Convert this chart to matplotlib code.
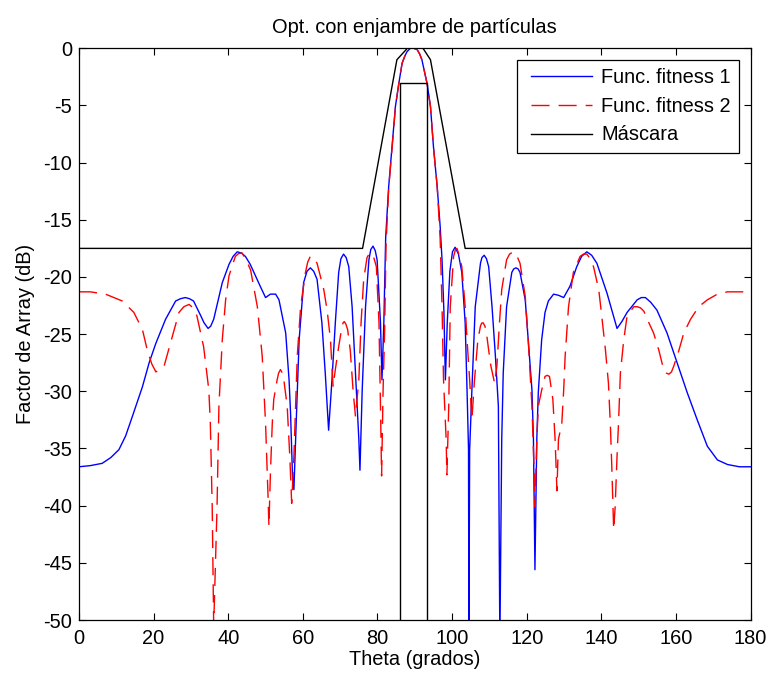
import matplotlib
matplotlib.use("Agg")
import matplotlib.pyplot as plt
from matplotlib.legend_handler import HandlerLine2D

# ---- data ----
theta_f1 = [0, 3, 6.2, 8.5, 10.7, 12.5, 14.3, 17.0, 18.8, 20.6, 23.2, 25.9, 27.2, 28.5, 29.6, 30.7,
            32.5, 33.5, 34.6, 35.3, 36.1, 38.4, 40.2, 41.3, 42.4, 43.5, 44.6, 45.9, 47.3, 48.7,
            50.0, 51.3, 52.7, 53.6, 55.4, 56.3, 56.7, 57.2, 57.6, 58.3, 59.0, 60.2, 61.1, 62.0,
            62.9, 63.8, 65.1, 66.0, 66.9, 67.8, 68.7, 69.6, 70.2, 70.9, 71.6, 72.3, 73.2, 74.1,
            75.0, 75.3, 75.9, 76.8, 77.7, 78.2, 78.8, 79.4, 79.9, 80.8, 81.2, 81.7, 82.2, 83.0,
            83.9, 84.8, 85.7, 86.6, 87.3, 87.9, 88.8, 89.7, 90.6, 91.3, 91.9, 93.3, 94.2, 95.0,
            96.0, 96.8, 97.3, 97.8, 98.2, 98.7, 99.4, 100.1, 100.8, 101.7, 102.6, 103.5, 104.0,
            104.4, 104.5, 104.7, 105.3, 106.2, 107.6, 108.0, 108.6, 109.2, 109.8, 110.7, 111.6,
            112.4, 112.8, 113.3, 113.7, 114.6, 116.0, 116.5, 117.1, 117.7, 118.2, 119.6, 120.4,
            121.4, 121.8, 122.2, 122.7, 123.1, 124.0, 124.9, 125.8, 127.2, 128.5, 129.9, 131.6,
            133.4, 134.7, 136.1, 137.4, 138.8, 141.5, 144.2, 145.5, 146.9, 149.6, 150.7, 151.8,
            153.2, 154.9, 157.6, 160.3, 163.0, 165.7, 168.4, 171.1, 173.8, 177.0, 180.0]
db_f1 = [-36.6, -36.5, -36.3, -35.8, -35.1, -33.9, -32.2, -29.6, -27.5, -25.8, -23.7, -22.1, -21.9,
         -21.8, -21.9, -22.1, -23.3, -24.0, -24.5, -24.3, -23.7, -20.5, -18.9, -18.2, -17.8, -17.9,
         -18.2, -18.9, -19.9, -20.9, -21.8, -21.5, -21.5, -22.0, -24.9, -29.0, -31.9, -37.2, -38.6,
         -31.9, -25.5, -20.5, -19.5, -19.2, -19.5, -20.2, -24.0, -28.4, -33.4, -29.0, -24.0, -19.6,
         -18.4, -18.0, -18.3, -19.1, -22.6, -28.4, -34.2, -36.9, -29.9, -22.6, -18.5, -17.6, -17.3,
         -17.7, -18.5, -24.0, -29.0, -24.0, -16.5, -12.1, -8.6, -5.1, -3.1, -1.3, -0.7, -0.3, 0.0,
         0.0, -0.1, -0.5, -1.0, -3.1, -5.1, -8.6, -12.1, -15.6, -18.5, -23.0, -29.0, -24.0, -19.5,
         -17.8, -17.4, -18.0, -19.6, -24.0, -29.9, -35.1, -52.0, -35.1, -29.9, -22.6, -18.8, -18.3,
         -18.1, -18.4, -19.1, -22.6, -26.9, -31.3, -52.0, -34.2, -28.4, -22.6, -19.6, -19.3, -19.2,
         -19.3, -19.6, -22.0, -25.5, -29.9, -34.2, -45.6, -34.2, -30.1, -25.5, -23.1, -22.1, -21.5,
         -21.6, -21.8, -20.8, -19.1, -18.2, -17.8, -18.1, -18.8, -21.4, -24.5, -23.9, -23.1, -22.0,
         -21.8, -21.8, -22.2, -22.9, -24.9, -27.5, -30.1, -32.5, -34.8, -36.0, -36.4, -36.6, -36.6]

theta_f2 = [0, 3, 7.1, 11.6, 14.7, 17.0, 18.3, 19.5, 20.6, 21.7, 22.8, 25.0, 26.8, 28.1, 29.5,
            30.6, 31.6, 33.4, 34.8, 35.2, 35.7, 36.1, 37.0, 37.5, 38.4, 39.3, 40.2, 41.9, 42.8,
            43.7, 44.8, 46.0, 47.8, 49.1, 50.0, 50.7, 50.9, 51.3, 51.8, 52.2, 53.1, 53.5, 54.0,
            54.5, 54.9, 55.8, 56.5, 57.0, 57.6, 58.5, 59.4, 60.7, 61.3, 62.0, 62.9, 63.8, 65.6,
            66.5, 67.4, 68.1, 68.7, 69.6, 70.5, 70.8, 71.1, 71.5, 72.0, 72.7, 73.5, 74.1, 75.0,
            75.6, 76.3, 77.2, 77.8, 78.4, 79.1, 79.7, 80.4, 80.8, 81.1, 81.5, 81.9, 82.3, 83.0,
            83.9, 84.8, 85.7, 86.6, 87.3, 87.9, 88.8, 89.7, 90.6, 91.3, 91.9, 93.3, 94.2, 95.0,
            96.0, 96.8, 97.3, 97.7, 98.4, 98.6, 99.1, 99.5, 100.4, 100.9, 101.3, 101.9, 102.6,
            103.5, 104.0, 104.7, 105.3, 106.0, 106.9, 107.6, 107.9, 108.3, 108.8, 109.2, 109.8,
            110.4, 111.4, 112.0, 112.7, 113.3, 114.6, 115.4, 116.4, 117.3, 118.2, 119.6, 120.4,
            121.4, 122.0, 122.2, 122.7, 123.1, 124.0, 124.9, 125.5, 126.1, 127.0, 127.6, 128.1,
            128.5, 129.4, 129.9, 130.3, 131.2, 132.5, 134.3, 135.2, 136.1, 137.0, 137.9, 139.3,
            140.1, 141.1, 141.9, 142.4, 142.8, 143.3, 143.7, 144.2, 144.6, 145.1, 146.0, 146.9,
            148.7, 149.6, 150.5, 151.4, 152.3, 154.0, 155.4, 156.7, 157.4, 158.1, 158.8, 159.4,
            160.8, 162.1, 163.9, 166.1, 168.4, 171.1, 173.8, 180.0]
db_f2 = [-21.3, -21.3, -21.5, -22.1, -23.1, -24.6, -26.4, -27.6, -28.3, -28.1, -27.8, -25.2, -23.1,
         -22.6, -22.4, -22.7, -23.4, -26.1, -29.9, -32.8, -40.1, -50.5, -40.1, -31.3, -25.5, -22.0,
         -19.9, -18.2, -17.95, -17.9, -18.5, -19.4, -22.6, -26.9, -32.8, -39.5, -41.8, -37.2, -32.8,
         -30.7, -29.0, -28.4, -28.1, -28.4, -29.0, -31.3, -35.7, -39.8, -35.7, -26.9, -22.6, -19.6,
         -18.7, -18.2, -18.3, -18.8, -21.1, -22.9, -25.5, -29.6, -28.1, -26.1, -24.3, -24.0, -23.9,
         -24.1, -24.6, -26.4, -30.1, -32.2, -29.0, -24.0, -20.2, -18.3, -17.95, -17.9, -18.4, -19.1,
         -24.0, -31.3, -37.4, -29.9, -24.9, -17.0, -12.3, -8.7, -5.2, -3.1, -1.3, -0.7, -0.3, 0.0,
         0.0, -0.1, -0.5, -1.0, -3.1, -5.1, -8.6, -12.1, -16.7, -22.6, -29.0, -34.2, -37.3, -31.3,
         -22.6, -18.2, -17.6, -17.5, -18.1, -19.1, -22.6, -25.5, -29.0, -32.5, -29.0, -25.5, -24.3,
         -24.05, -24.0, -24.3, -24.9, -26.4, -27.8, -29.3, -27.8, -24.0, -21.1, -18.5, -18.0, -17.8,
         -18.1, -18.8, -21.7, -25.5, -31.3, -37.2, -40.1, -34.2, -31.3, -29.9, -28.7, -28.6, -28.7,
         -30.7, -34.2, -38.7, -34.2, -32.8, -29.9, -26.9, -22.6, -19.6, -18.2, -18.0, -18.0, -18.4,
         -19.1, -21.1, -23.4, -26.4, -29.3, -32.8, -36.6, -42.1, -40.1, -35.7, -32.8, -28.4, -25.5,
         -23.4, -22.6, -22.6, -22.7, -23.0, -23.7, -24.9, -26.4, -28.1, -28.4, -28.5, -28.3, -27.8,
         -26.4, -24.9, -23.7, -22.6, -22.0, -21.5, -21.3, -21.3]

mask_upper_theta = [0, 76.0, 85.2, 88.0, 92.2, 94.2, 103.5, 180]
mask_upper_db = [-17.5, -17.5, -1.0, 0.0, 0.0, -1.0, -17.5, -17.5]
mask_lower_theta = [85.9, 85.9, 93.3, 93.3]
mask_lower_db = [-50, -3, -3, -50]

x_ticks = list(range(0, 181, 20))
y_ticks = list(range(0, -51, -5))

plt.rcParams['font.family'] = ['Liberation Sans', 'DejaVu Sans']
plt.rcParams['axes.unicode_minus'] = False
FS = 14.4

fig = plt.figure(figsize=(7.7, 6.79), dpi=100)
ax = fig.add_axes([79 / 770, 1 - 620 / 679, (750.6 - 79) / 770, (620 - 48.3) / 679])

ax.plot(theta_f1, db_f1, color='#0000FF', lw=1.0, label='Func. fitness 1')
ax.plot(theta_f2, db_f2, color='#FF0000', lw=1.0, dashes=(13, 6.5), label='Func. fitness 2')
ax.plot(mask_upper_theta, mask_upper_db, color='black', lw=1.0, label='Máscara')
ax.plot(mask_lower_theta, mask_lower_db, color='black', lw=1.0)

ax.set_xlim(0, 180)
ax.set_ylim(-50, 0)
ax.set_xticks(x_ticks)
ax.set_yticks(y_ticks)
ax.tick_params(direction='in', length=5, width=0.8, top=True, right=True,
               labelsize=FS, colors='black')
ax.tick_params(axis='x', pad=6.5)
ax.tick_params(axis='y', pad=5)
for s in ax.spines.values():
    s.set_linewidth(0.9)
    s.set_color('black')

ax.set_title('Opt. con enjambre de partículas', fontsize=FS, pad=11)
ax.set_xlabel('Theta (grados)', fontsize=FS, labelpad=1.5)
ax.set_ylabel('Factor de Array (dB)', fontsize=FS, labelpad=6)

leg = ax.legend(loc='upper right', fontsize=FS, frameon=True, fancybox=False,
                framealpha=1, edgecolor='black', borderpad=0.4, borderaxespad=0.6,
                labelspacing=0.48, handlelength=3.37, handletextpad=0.43,
                handler_map={plt.Line2D: HandlerLine2D(xpad=0.28)})
leg.get_frame().set_linewidth(0.9)

fig.savefig('out.png', dpi=100)
